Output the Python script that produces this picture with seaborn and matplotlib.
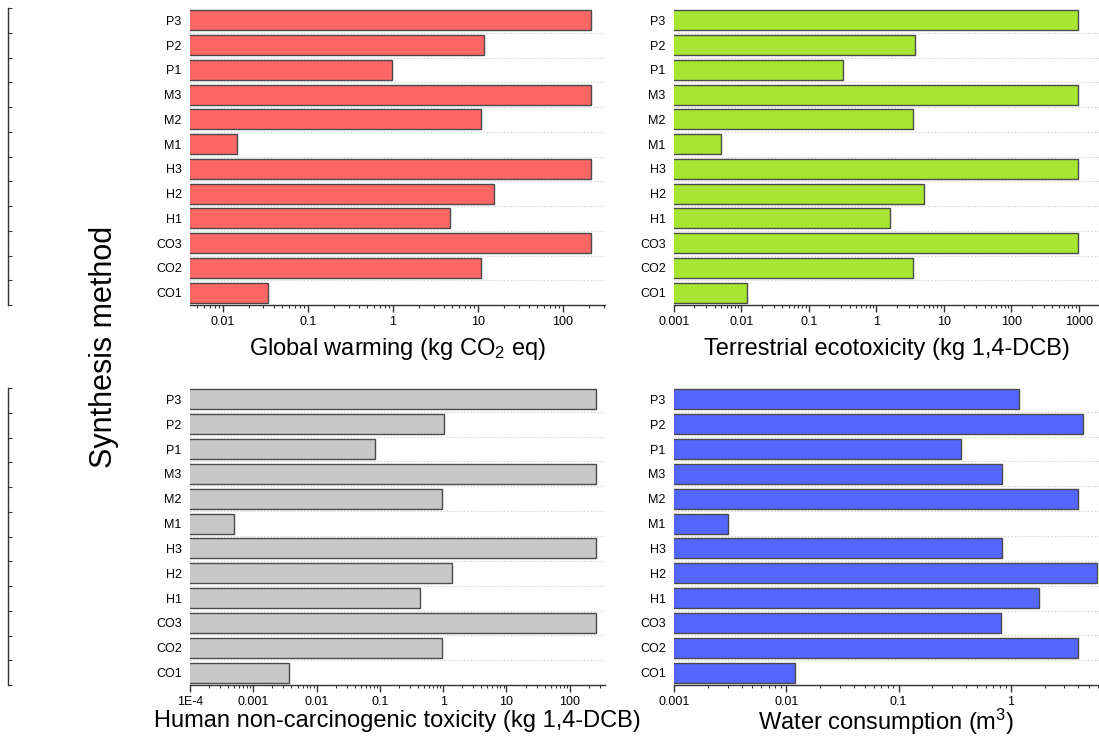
import numpy as np
import pandas as pd
import matplotlib
matplotlib.use("Agg")
import matplotlib.pyplot as plt
import matplotlib.ticker as mticker
import seaborn as sns

# Synthesis routes, listed top to bottom
methods = ["P3", "P2", "P1", "M3", "M2", "M1", "H3", "H2", "H1", "CO3", "CO2", "CO1"]

global_warming = [214, 11.8, 0.98, 212, 10.8, 0.0146, 212, 15.4, 4.7, 212, 11.0, 0.034]
terrestrial_ecotox = [970, 3.7, 0.32, 970, 3.5, 0.0050, 970, 5.0, 1.58, 970, 3.5, 0.012]
human_nc_tox = [258, 1.02, 0.083, 258, 0.95, 0.000495, 258, 1.38, 0.43, 258, 0.95, 0.0036]
water_consumption = [1.18, 4.4, 0.36, 0.83, 4.0, 0.0030, 0.84, 5.9, 1.78, 0.82, 3.98, 0.012]

gw_ticks = [0.01, 0.1, 1, 10, 100]
gw_labels = ["0.01", "0.1", "1", "10", "100"]
te_ticks = [0.001, 0.01, 0.1, 1, 10, 100, 1000]
te_labels = ["0.001", "0.01", "0.1", "1", "10", "100", "1000"]
ht_ticks = [1e-4, 0.001, 0.01, 0.1, 1, 10, 100]
ht_labels = ["1E-4", "0.001", "0.01", "0.1", "1", "10", "100"]
wc_ticks = [0.001, 0.01, 0.1, 1]
wc_labels = ["0.001", "0.01", "0.1", "1"]

panels = [
    dict(values=global_warming, color="#FF6666", xlabel="Global warming (kg CO$_2$ eq)",
         ticks=gw_ticks, labels=gw_labels, xlim=(0.0041, 312), label_y=-0.168,
         rect=[190 / 1099, 1 - 305 / 744, 415 / 1099, 297 / 744]),
    dict(values=terrestrial_ecotox, color="#A6E632", xlabel="Terrestrial ecotoxicity (kg 1,4-DCB)",
         ticks=te_ticks, labels=te_labels, xlim=(0.001, 1990), label_y=-0.168,
         rect=[674 / 1099, 1 - 305 / 744, 425 / 1099, 297 / 744]),
    dict(values=human_nc_tox, color="#C8C8C8", xlabel="Human non-carcinogenic toxicity (kg 1,4-DCB)",
         ticks=ht_ticks, labels=ht_labels, xlim=(1e-4, 360), label_y=-0.141,
         rect=[190 / 1099, 1 - 685 / 744, 415 / 1099, 298 / 744]),
    dict(values=water_consumption, color="#5566FF", xlabel="Water consumption (m$^3$)",
         ticks=wc_ticks, labels=wc_labels, xlim=(0.001, 6.1), label_y=-0.151,
         rect=[674 / 1099, 1 - 685 / 744, 425 / 1099, 298 / 744]),
]

sns.set_theme(style="white")
plt.rcParams["font.family"] = ["Liberation Sans", "DejaVu Sans"]
plt.rcParams["mathtext.fontset"] = "custom"
plt.rcParams["mathtext.rm"] = "Liberation Sans"
plt.rcParams["mathtext.it"] = "Liberation Sans"
plt.rcParams["text.color"] = "black"
plt.rcParams["axes.labelcolor"] = "black"
plt.rcParams["xtick.color"] = "black"
plt.rcParams["ytick.color"] = "black"

fig = plt.figure(figsize=(10.99, 7.44), dpi=100)
axis_color = "#333333"

for p in panels:
    ax = fig.add_axes(p["rect"])
    df = pd.DataFrame({"method": methods, "value": p["values"]})
    sns.barplot(data=df, x="value", y="method", order=methods, color=p["color"],
                edgecolor="#4a4a4a", linewidth=1.0, width=0.8, saturation=1, ax=ax)
    ax.set_xscale("log")
    ax.set_xlim(*p["xlim"])
    ax.set_ylim(11.5, -0.5)
    ax.xaxis.set_major_locator(mticker.FixedLocator(p["ticks"]))
    ax.xaxis.set_major_formatter(mticker.FixedFormatter(p["labels"]))
    ax.xaxis.set_minor_locator(mticker.LogLocator(base=10, subs=np.arange(2, 10), numticks=30))
    ax.xaxis.set_minor_formatter(mticker.NullFormatter())
    ax.tick_params(axis="x", which="major", direction="out", length=5, width=1,
                   color=axis_color, labelsize=9, pad=3, bottom=True, labelcolor="black")
    ax.tick_params(axis="x", which="minor", direction="out", length=2.5, width=0.8,
                   color=axis_color, bottom=True)
    ax.tick_params(axis="y", which="both", length=0, labelsize=9, pad=6, labelcolor="black")
    # dotted separators between categories
    ax.set_yticks(np.arange(0.5, 11.5, 1.0), minor=True)
    ax.grid(False)
    ax.grid(True, axis="y", which="minor", linestyle=(0, (1.5, 1.5)), color="#d8d8d8", linewidth=0.8)
    ax.set_axisbelow(True)
    for side in ["top", "right", "left"]:
        ax.spines[side].set_visible(False)
    ax.spines["bottom"].set_color(axis_color)
    ax.spines["bottom"].set_linewidth(1.0)
    ax.set_ylabel("")
    ax.set_xlabel(p["xlabel"], fontsize=17, color="black", va="baseline")
    ax.xaxis.set_label_coords(0.5, p["label_y"])

# category axis guides along the left margin
for top_px, bottom_px in [(8, 305), (388, 685)]:
    gax = fig.add_axes([8 / 1099, 1 - bottom_px / 744, 0.0001, (bottom_px - top_px) / 744])
    gax.set_ylim(0, 12)
    gax.set_yticks(np.arange(0, 13))
    gax.set_yticklabels([])
    gax.set_xticks([])
    for side in ["top", "right", "bottom"]:
        gax.spines[side].set_visible(False)
    gax.spines["left"].set_color(axis_color)
    gax.spines["left"].set_linewidth(1.0)
    gax.tick_params(axis="y", direction="in", length=3, width=0.8, color=axis_color, left=True)
    gax.patch.set_alpha(0)

fig.text(104 / 1099, 1 - 347 / 744, "Synthesis method", rotation=90, fontsize=22,
         ha="center", va="center", color="black")

fig.savefig("out.png", dpi=100)
